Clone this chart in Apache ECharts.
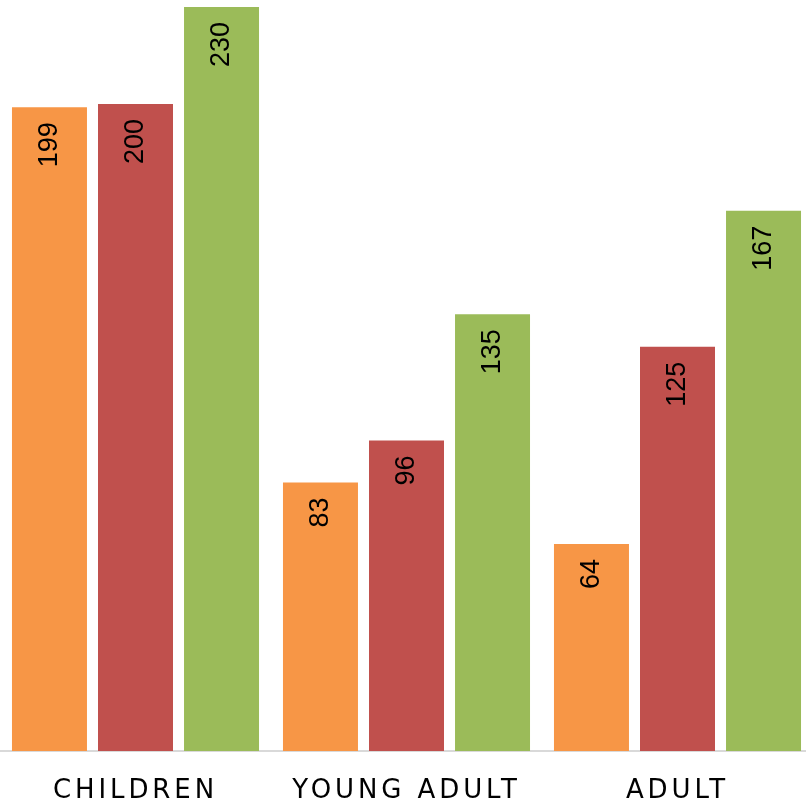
<!DOCTYPE html>
<html>
<head>
<meta charset="utf-8">
<script src="https://cdn.jsdelivr.net/npm/echarts@6/dist/echarts.min.js"></script>
<style>html,body{margin:0;padding:0;background:#fff}#c{width:806px;height:807px}</style>
</head>
<body>
<div id="c"></div>
<script>
var categories = ['CHILDREN', 'YOUNG ADULT', 'ADULT'];
var seriesA = [199, 83, 64];
var seriesB = [200, 96, 125];
var seriesC = [230, 135, 167];
var colors = ['#F79646', '#C0504D', '#9BBB59'];

// widen letter spacing for the category labels (Century Gothic-like look)
(function () {
  var proto = CanvasRenderingContext2D.prototype;
  var orig = proto.fillText;
  proto.fillText = function () {
    if (this.font && this.font.indexOf('DejaVu Sans') >= 0) {
      this.letterSpacing = '3.9px';
    } else {
      this.letterSpacing = '0px';
    }
    return orig.apply(this, arguments);
  };
})();

var chart = echarts.init(document.getElementById('c'));
function mk(data, color) {
  return {
    type: 'bar',
    data: data,
    barWidth: 75,
    barGap: '14.7%',
    itemStyle: { color: color },
    label: {
      show: true,
      position: 'insideTop',
      rotate: 90,
      align: 'right',
      verticalAlign: 'middle',
      distance: 15,
      color: '#000',
      fontSize: 27,
      fontFamily: 'Liberation Sans'
    }
  };
}
chart.setOption({
  animation: false,
  grid: { left: 0, width: 813, top: 7, bottom: 56, outerBoundsMode: 'none', containLabel: false },
  xAxis: {
    type: 'category',
    data: categories,
    axisLine: { lineStyle: { color: '#D9D9D9', width: 2 } },
    axisTick: { show: false },
    axisLabel: { color: '#000', fontSize: 26, fontFamily: 'DejaVu Sans', fontWeight: 'normal', margin: 27 }
  },
  yAxis: {
    type: 'value', min: 0, max: 230,
    show: false,
    splitLine: { show: false }
  },
  series: [mk(seriesA, colors[0]), mk(seriesB, colors[1]), mk(seriesC, colors[2])]
});
</script>
</body>
</html>
